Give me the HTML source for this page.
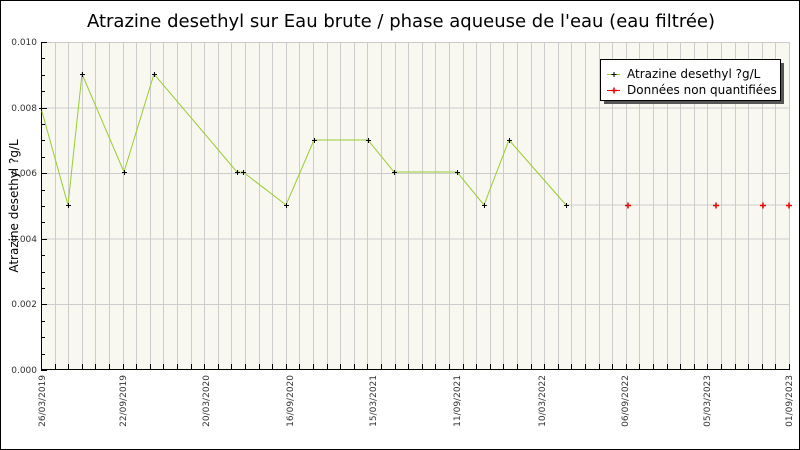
<!DOCTYPE html>
<html><head><meta charset="utf-8"><style>body{margin:0;background:#fff}svg{display:block}</style></head><body>
<svg width="800" height="450" xmlns="http://www.w3.org/2000/svg" font-family="DejaVu Sans, Liberation Sans, sans-serif">
<rect x="0.5" y="0.5" width="799" height="449" fill="#fff" stroke="#000"/>
<text x="401" y="27" font-size="18" text-anchor="middle" fill="#000">Atrazine desethyl sur Eau brute / phase aqueuse de l'eau (eau filtrée)</text>
<rect x="41" y="42" width="749" height="328" fill="#f8f8f0"/>
<g id="g" stroke="#ccc" stroke-width="1"></g>
<g stroke="#ccc">
<line x1="41" y1="42.5" x2="790" y2="42.5"/><line x1="41" y1="108" x2="790" y2="108"/><line x1="41" y1="173.5" x2="790" y2="173.5"/><line x1="41" y1="239" x2="790" y2="239"/><line x1="41" y1="304.5" x2="790" y2="304.5"/>
</g>
<g id="t" stroke="#000"></g>
<line x1="41.5" y1="42" x2="41.5" y2="370" stroke="#000"/>
<line x1="41" y1="369.5" x2="790" y2="369.5" stroke="#000"/>
<g font-size="9" fill="#333" text-anchor="end">
<text x="37" y="45">0.010</text><text x="37" y="111">0.008</text><text x="37" y="176">0.006</text><text x="37" y="242">0.004</text><text x="37" y="307">0.002</text><text x="37" y="373">0.000</text>
</g>
<text transform="translate(18,206) rotate(-90)" font-size="12" text-anchor="middle">Atrazine desethyl ?g/L</text>
<g font-size="9" fill="#333" text-anchor="end" id="xl"></g>
<polyline fill="none" stroke="#9c3" stroke-width="1" points="41,108 68,205 82,74 124,172 154,74 237,172 243,172 286,205 314,140 368,140 394,172 457,172 484,205 509,140 566,205"/>
<line x1="566" y1="205" x2="790" y2="205" stroke="#ccc"/>
<g id="pts" stroke="#000"></g>
<g id="rp" stroke="#e00" stroke-width="1.5"></g>
<rect x="604" y="63" width="180" height="41" fill="#555"/>
<rect x="600.5" y="59.5" width="180" height="41" fill="#fff" stroke="#000"/>
<line x1="607" y1="74.5" x2="620" y2="74.5" stroke="#9c3"/><path d="M611.5 74.5h5M614 72v5" stroke="#000"/>
<line x1="607" y1="90.5" x2="620" y2="90.5" stroke="#e00"/><path d="M611 90.5h6M614 87.5v6" stroke="#e00" stroke-width="1.5"/>
<text x="627" y="78" font-size="12">Atrazine desethyl ?g/L</text>
<text x="627" y="94" font-size="12">Données non quantifiées</text>
<script>
var ns="http://www.w3.org/2000/svg";
function el(p,n,a){var e=document.createElementNS(ns,n);for(var k in a)e.setAttribute(k,a[k]);document.getElementById(p).appendChild(e);return e;}
for(var i=0;i<=55;i++){var x=Math.round(41+i*13.6)+0.5;el('g','line',{x1:x,y1:42,x2:x,y2:370});el('t','line',{x1:x,y1:364,x2:x,y2:370});}
for(var j=0;j<=20;j++){var y=Math.round(42+j*16.4)+0.5;el('t','line',{x1:41,y1:y,x2:j%4==0?47:45,y2:y});}
var L=[[42,"26/03/2019"],[123,"22/09/2019"],[206,"20/03/2020"],[290,"16/09/2020"],[373,"15/03/2021"],[457,"11/09/2021"],[542,"10/03/2022"],[625,"06/09/2022"],[707,"05/03/2023"],[789,"01/09/2023"]];
L.forEach(function(l){var t=el('xl','text',{transform:'translate('+(l[0]+3)+',375) rotate(-90)'});t.textContent=l[1];});
[[41,108],[68,205],[82,74],[124,172],[154,74],[237,172],[243,172],[286,205],[314,140],[368,140],[394,172],[457,172],[484,205],[509,140],[566,205]].forEach(function(p){el('pts','path',{d:'M'+(p[0]-2)+' '+(p[1]+0.5)+'h5M'+(p[0]+0.5)+' '+(p[1]-2)+'v5'});});
[628,716,763,789].forEach(function(x){el('rp','path',{d:'M'+(x-3)+' 205.5h6M'+x+' 202.5v6'});});
</script>
</svg>
</body></html>
